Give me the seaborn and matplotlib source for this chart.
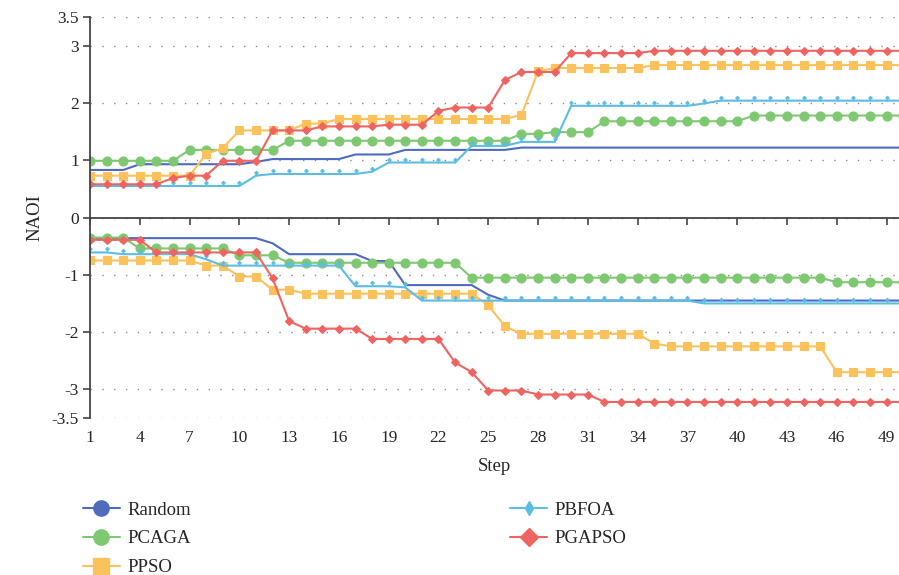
import matplotlib
matplotlib.use("Agg")
import matplotlib.pyplot as plt
from matplotlib.path import Path
from matplotlib.lines import Line2D
import seaborn as sns

steps = list(range(1, 51))
methods = ["Random", "PCAGA", "PPSO", "PBFOA", "PGAPSO"]
colors = ["#4E6BBE", "#7DC870", "#FBC25C", "#5CBDE3", "#EF6461"]

# upper half of the chart
random_up = [0.83, 0.83, 0.83, 0.93, 0.93, 0.93, 0.93, 0.93, 0.93, 0.93,
             0.97, 1.02, 1.02, 1.02, 1.02, 1.02, 1.10, 1.10, 1.10, 1.18,
             1.18, 1.18, 1.18, 1.18, 1.18, 1.18, 1.22, 1.22, 1.22, 1.22,
             1.22, 1.22, 1.22, 1.22, 1.22, 1.22, 1.22, 1.22, 1.22, 1.22,
             1.22, 1.22, 1.22, 1.22, 1.22, 1.22, 1.22, 1.22, 1.22, 1.22]
pcaga_up = [0.99, 0.99, 0.99, 0.99, 0.99, 0.99, 1.18, 1.18, 1.18, 1.18,
            1.18, 1.18, 1.34, 1.34, 1.34, 1.34, 1.34, 1.34, 1.34, 1.34,
            1.34, 1.34, 1.34, 1.34, 1.34, 1.34, 1.46, 1.46, 1.49, 1.49,
            1.49, 1.68, 1.68, 1.68, 1.68, 1.68, 1.68, 1.68, 1.68, 1.68,
            1.78, 1.78, 1.78, 1.78, 1.78, 1.78, 1.78, 1.78, 1.78, 1.78]
ppso_up = [0.73, 0.73, 0.73, 0.73, 0.73, 0.73, 0.73, 1.11, 1.21, 1.52,
           1.52, 1.52, 1.52, 1.64, 1.64, 1.72, 1.72, 1.72, 1.72, 1.72,
           1.72, 1.72, 1.72, 1.72, 1.72, 1.72, 1.79, 2.55, 2.61, 2.61,
           2.61, 2.61, 2.61, 2.61, 2.66, 2.66, 2.66, 2.66, 2.66, 2.66,
           2.66, 2.66, 2.66, 2.66, 2.66, 2.66, 2.66, 2.66, 2.66, 2.66]
pbfoa_up = [0.55, 0.55, 0.55, 0.55, 0.55, 0.55, 0.55, 0.55, 0.55, 0.55,
            0.73, 0.76, 0.76, 0.76, 0.76, 0.76, 0.76, 0.80, 0.96, 0.96,
            0.96, 0.96, 0.96, 1.25, 1.25, 1.25, 1.32, 1.32, 1.32, 1.95,
            1.95, 1.95, 1.95, 1.95, 1.95, 1.95, 1.95, 1.99, 2.04, 2.04,
            2.04, 2.04, 2.04, 2.04, 2.04, 2.04, 2.04, 2.04, 2.04, 2.04]
pgapso_up = [0.58, 0.58, 0.58, 0.58, 0.58, 0.69, 0.73, 0.73, 0.99, 0.99,
             0.99, 1.52, 1.52, 1.52, 1.59, 1.59, 1.59, 1.59, 1.62, 1.62,
             1.62, 1.86, 1.92, 1.92, 1.92, 2.40, 2.54, 2.54, 2.54, 2.87,
             2.87, 2.87, 2.87, 2.87, 2.91, 2.91, 2.91, 2.91, 2.91, 2.91,
             2.91, 2.91, 2.91, 2.91, 2.91, 2.91, 2.91, 2.91, 2.91, 2.91]

# lower half of the chart
random_lo = [-0.36, -0.36, -0.36, -0.36, -0.36, -0.36, -0.36, -0.36, -0.36, -0.36,
             -0.36, -0.45, -0.64, -0.64, -0.64, -0.64, -0.64, -0.76, -0.76, -1.18,
             -1.18, -1.18, -1.18, -1.18, -1.35, -1.45, -1.45, -1.45, -1.45, -1.45,
             -1.45, -1.45, -1.45, -1.45, -1.45, -1.45, -1.45, -1.45, -1.45, -1.45,
             -1.45, -1.45, -1.45, -1.45, -1.45, -1.45, -1.45, -1.45, -1.45, -1.45]
pcaga_lo = [-0.35, -0.35, -0.35, -0.54, -0.54, -0.54, -0.54, -0.54, -0.54, -0.66,
            -0.66, -0.66, -0.79, -0.79, -0.79, -0.79, -0.79, -0.79, -0.79, -0.79,
            -0.79, -0.79, -0.79, -1.05, -1.05, -1.05, -1.05, -1.05, -1.05, -1.05,
            -1.05, -1.05, -1.05, -1.05, -1.05, -1.05, -1.05, -1.05, -1.05, -1.05,
            -1.05, -1.05, -1.05, -1.05, -1.05, -1.13, -1.13, -1.13, -1.13, -1.13]
ppso_lo = [-0.75, -0.75, -0.75, -0.75, -0.75, -0.75, -0.75, -0.84, -0.84, -1.03,
           -1.03, -1.26, -1.26, -1.33, -1.33, -1.33, -1.33, -1.33, -1.33, -1.33,
           -1.33, -1.33, -1.33, -1.33, -1.53, -1.90, -2.03, -2.03, -2.03, -2.03,
           -2.03, -2.03, -2.03, -2.03, -2.20, -2.25, -2.25, -2.25, -2.25, -2.25,
           -2.25, -2.25, -2.25, -2.25, -2.25, -2.70, -2.70, -2.70, -2.70, -2.70]
pbfoa_lo = [-0.61, -0.61, -0.64, -0.64, -0.64, -0.64, -0.64, -0.73, -0.84, -0.84,
            -0.84, -0.84, -0.84, -0.84, -0.84, -0.84, -1.20, -1.20, -1.20, -1.22,
            -1.45, -1.45, -1.45, -1.45, -1.45, -1.45, -1.45, -1.45, -1.45, -1.45,
            -1.45, -1.45, -1.45, -1.45, -1.45, -1.45, -1.45, -1.50, -1.50, -1.50,
            -1.50, -1.50, -1.50, -1.50, -1.50, -1.50, -1.50, -1.50, -1.50, -1.50]
pgapso_lo = [-0.39, -0.39, -0.39, -0.39, -0.61, -0.61, -0.61, -0.61, -0.61, -0.61,
             -0.61, -1.06, -1.81, -1.94, -1.94, -1.94, -1.94, -2.12, -2.12, -2.12,
             -2.12, -2.12, -2.53, -2.70, -3.02, -3.02, -3.02, -3.09, -3.09, -3.09,
             -3.09, -3.22, -3.22, -3.22, -3.22, -3.22, -3.22, -3.22, -3.22, -3.22,
             -3.22, -3.22, -3.22, -3.22, -3.22, -3.22, -3.22, -3.22, -3.22, -3.22]

upper = [random_up, pcaga_up, ppso_up, pbfoa_up, pgapso_up]
lower = [random_lo, pcaga_lo, ppso_lo, pbfoa_lo, pgapso_lo]

x_ticks = list(range(1, 50, 3))
y_ticks = [-3.5, -3, -2, -1, 0, 1, 2, 3, 3.5]
y_labels = ["-3.5", "-3", "-2", "-1", "0", "1", "2", "3", "3.5"]

# little "pin" marker: a diamond sitting on a short stem
pin = Path([(0, 0), (0, 1.0), (0, 0.8), (0.8, 1.6), (0, 2.4), (-0.8, 1.6), (0, 0.8)],
           [Path.MOVETO, Path.LINETO, Path.MOVETO, Path.LINETO, Path.LINETO,
            Path.LINETO, Path.CLOSEPOLY])

line_markers = [None, "o", "s", pin, "D"]
marker_sizes = [0, 6.5, 6, 7.5, 3.6]

sns.set_theme(style="white")
plt.rcParams["font.family"] = ["Liberation Serif", "DejaVu Serif"]

fig = plt.figure(figsize=(8.99, 5.75), dpi=100)
ax = fig.add_axes([90 / 899, 1 - 418 / 575, 809 / 899, 401 / 575])

for name, col, mk, ms, up, lo in zip(methods, colors, line_markers, marker_sizes, upper, lower):
    for vals in (up, lo):
        kw = dict(x=steps, y=vals, color=col, linewidth=1.5, ax=ax, legend=False)
        if mk is not None:
            kw.update(marker=mk, markersize=ms, markeredgecolor=col, markeredgewidth=0.8)
        sns.lineplot(**kw)

ax.set_xlim(1, 49.75)
ax.set_ylim(-3.5, 3.5)
ax.set_yticks(y_ticks)
ax.set_yticklabels(y_labels)
ax.grid(axis="y", color="#8a8a8a", linestyle=(0, (1, 7.5)), linewidth=1.0)
ax.grid(axis="x", visible=False)

for s in ["top", "right"]:
    ax.spines[s].set_visible(False)
ax.spines["left"].set_color("#444444")
ax.spines["left"].set_linewidth(1.3)
ax.spines["bottom"].set_position(("data", 0))
ax.spines["bottom"].set_color("#444444")
ax.spines["bottom"].set_linewidth(1.3)

ax.set_xticks(x_ticks)
ax.tick_params(axis="x", direction="out", length=5, width=1.2, color="#444444",
               labelbottom=False, bottom=True)
ax.tick_params(axis="y", direction="out", length=5, width=1.2, color="#444444",
               left=True, labelsize=12.5, pad=3)
ax.set_ylabel("NAOI", fontsize=13.5, labelpad=6)

secax = ax.secondary_xaxis("bottom")
secax.set_xticks(x_ticks)
secax.spines["bottom"].set_visible(False)
secax.tick_params(length=0, labelsize=12.5, pad=9)
secax.set_xlabel("Step", fontsize=13.5, labelpad=8)

handle_markers = ["o", "o", "s", "d", "D"]
handle_sizes = [11, 11, 11, 7, 9]
handles = [Line2D([], [], color=c, marker=m, markersize=s, linewidth=1.5, markeredgecolor=c)
           for c, m, s in zip(colors, handle_markers, handle_sizes)]
fig.legend(handles, methods, ncol=2, loc="upper left", bbox_to_anchor=(75 / 899, 1 - 494 / 575),
           frameon=False, fontsize=13.5, columnspacing=17, handlelength=2.0,
           handletextpad=0.4, labelspacing=0.62, borderaxespad=0)

fig.savefig("out.png", dpi=100)
